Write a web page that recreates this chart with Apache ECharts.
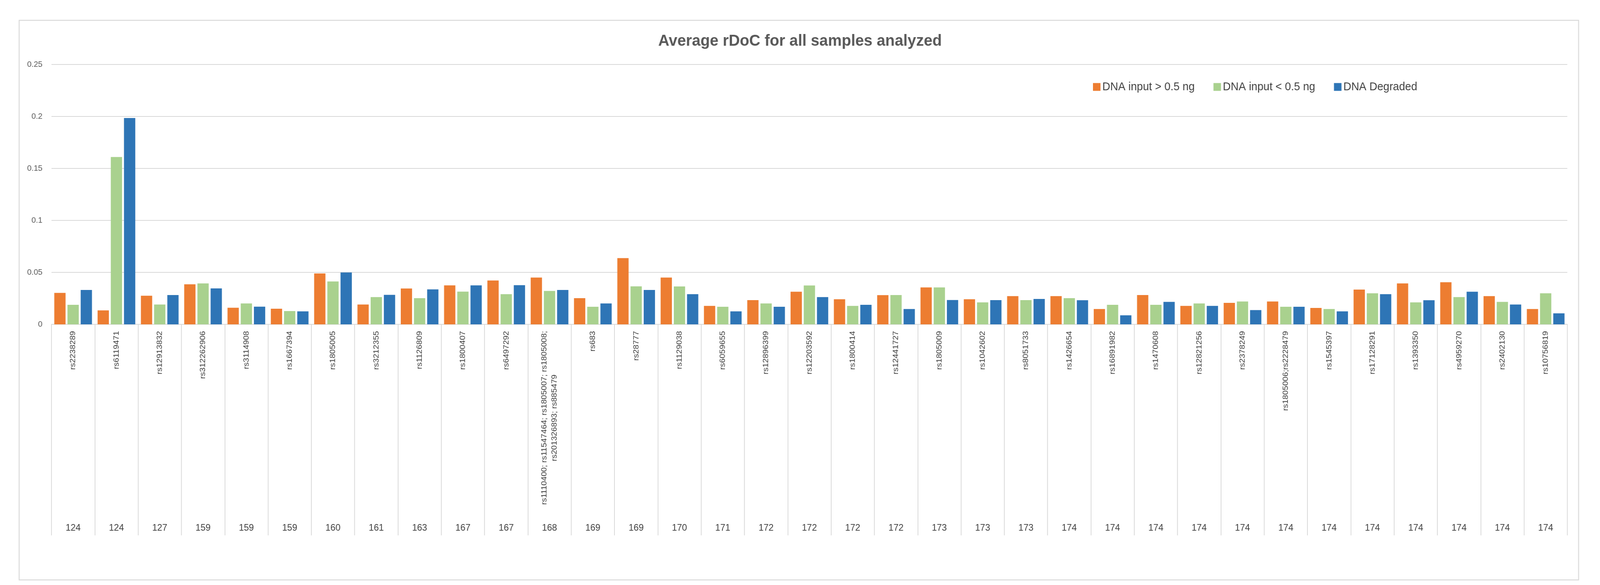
<!DOCTYPE html>
<html>
<head>
<meta charset="utf-8">
<script src="https://cdn.jsdelivr.net/npm/echarts@6/dist/echarts.min.js"></script>
<style>
  html, body { margin: 0; padding: 0; background: #ffffff; overflow: hidden; }
  #chart { width: 4260px; height: 1497px; transform-origin: 0 0; }
</style>
</head>
<body>
<div id="chart"></div>
<script>
const rsNames = [
  'rs2238289', 'rs6119471', 'rs12913832', 'rs312262906', 'rs3114908', 'rs1667394',
  'rs1805005', 'rs3212355', 'rs1126809', 'rs1800407', 'rs6497292',
  'rs1110400; rs11547464; rs1805007; rs1805008;\nrs201326893; rs885479',
  'rs683', 'rs28777', 'rs1129038', 'rs6059655', 'rs12896399', 'rs12203592',
  'rs1800414', 'rs12441727', 'rs1805009', 'rs1042602', 'rs8051733', 'rs1426654',
  'rs16891982', 'rs1470608', 'rs12821256', 'rs2378249', 'rs1805006;rs2228479',
  'rs1545397', 'rs17128291', 'rs1393350', 'rs4959270', 'rs2402130', 'rs10756819'
];
const sampleCounts = [
  '124', '124', '127', '159', '159', '159', '160', '161', '163', '167', '167', '168',
  '169', '169', '170', '171', '172', '172', '172', '172', '173', '173', '173', '174',
  '174', '174', '174', '174', '174', '174', '174', '174', '174', '174', '174'
];
const seriesNames = ['DNA input > 0.5 ng', 'DNA input < 0.5 ng', 'DNA Degraded'];
const inputAbove = [
  0.0303, 0.0134, 0.0275, 0.0385, 0.0160, 0.0150, 0.0490, 0.0191, 0.0345, 0.0375,
  0.0422, 0.0450, 0.0252, 0.0637, 0.0450, 0.0178, 0.0233, 0.0314, 0.0242, 0.0281,
  0.0355, 0.0242, 0.0272, 0.0272, 0.0148, 0.0282, 0.0178, 0.0207, 0.0220, 0.0158,
  0.0335, 0.0394, 0.0405, 0.0272, 0.0148
];
const inputBelow = [
  0.0188, 0.1610, 0.0191, 0.0394, 0.0201, 0.0128, 0.0413, 0.0262, 0.0252, 0.0315,
  0.0290, 0.0321, 0.0169, 0.0366, 0.0365, 0.0169, 0.0201, 0.0374, 0.0178, 0.0282,
  0.0355, 0.0211, 0.0233, 0.0252, 0.0188, 0.0188, 0.0201, 0.0220, 0.0169, 0.0148,
  0.0299, 0.0211, 0.0262, 0.0216, 0.0299
];
const degraded = [
  0.0331, 0.1985, 0.0282, 0.0346, 0.0170, 0.0125, 0.0499, 0.0284, 0.0336, 0.0375,
  0.0377, 0.0331, 0.0201, 0.0331, 0.0290, 0.0125, 0.0169, 0.0262, 0.0188, 0.0148,
  0.0234, 0.0233, 0.0244, 0.0232, 0.0087, 0.0216, 0.0178, 0.0137, 0.0169, 0.0125,
  0.0290, 0.0232, 0.0314, 0.0191, 0.0106
];
const colors = ['#ED7D31', '#A9D18E', '#2E75B6'];

// fit the 4260x1497 design into whatever viewport the browser really has
(function fit() {
  const el = document.getElementById('chart');
  const vw = window.innerWidth || 4260;
  const vh = window.innerHeight || 1497;
  const sx = vw / 4260, sy = vh / 1497;
  if (Math.abs(sx - 1) > 0.002 || Math.abs(sy - 1) > 0.002) {
    el.style.transform = 'scale(' + sx + ',' + sy + ')';
  }
})();

const chart = echarts.init(document.getElementById('chart'), null, { renderer: 'canvas', width: 4260, height: 1497 });
const FONT = "'Liberation Sans', Arial, sans-serif";
const gridLine = '#D9D9D9';

const option = {
  animation: false,
  backgroundColor: '#ffffff',
  color: colors,
  title: {
    text: 'Average rDoC for all samples analyzed',
    left: 'center',
    top: 80,
    textStyle: { fontFamily: FONT, fontSize: 41, fontWeight: 'bold', color: '#595959' }
  },
  legend: {
    left: 2905,
    top: 203,
    itemWidth: 20,
    itemHeight: 20,
    itemGap: 50,
    icon: 'rect',
    textStyle: { fontFamily: FONT, fontSize: 29, color: '#404040' },
    data: seriesNames
  },
  graphic: [{
    type: 'rect',
    shape: { x: 51, y: 52, width: 4152, height: 1432 },
    style: { fill: 'none', stroke: gridLine, lineWidth: 2.5 },
    silent: true,
    z: -1
  }],
  grid: { left: 137, right: 87, top: 165, bottom: 667, containLabel: false },
  xAxis: [{
    type: 'category',
    data: rsNames,
    position: 'bottom',
    axisLine: { show: true, lineStyle: { color: gridLine, width: 2 } },
    axisTick: { show: true, interval: 0, length: 540, lineStyle: { color: gridLine, width: 2 } },
    axisLabel: {
      interval: 0,
      rotate: 90,
      margin: 17,
      fontFamily: FONT,
      fontSize: 21,
      color: '#404040',
      formatter: function (v) {
        if (v.indexOf('\n') >= 0) {
          return v.split('\n').map(function (s) { return '{c|' + s + '}'; }).join('\n');
        }
        return v;
      },
      rich: {
        c: { align: 'center', fontFamily: FONT, fontSize: 21, color: '#404040', lineHeight: 27 }
      }
    },
    splitLine: { show: false }
  }, {
    type: 'category',
    data: rsNames,
    position: 'bottom',
    offset: 501,
    axisLine: { show: false },
    axisTick: { show: false },
    axisLabel: {
      interval: 0,
      margin: 8,
      fontFamily: "'Liberation Sans Narrow', 'Liberation Sans', Arial, sans-serif",
      fontSize: 24,
      color: '#404040',
      formatter: function (v, i) { return sampleCounts[i]; }
    }
  }],
  yAxis: {
    type: 'value',
    min: 0,
    max: 0.25,
    interval: 0.05,
    axisLine: { show: false },
    axisTick: { show: false },
    axisLabel: { fontFamily: FONT, fontSize: 21, color: '#595959', margin: 24 },
    splitLine: { show: true, lineStyle: { color: gridLine, width: 2 } }
  },
  series: [
    { name: seriesNames[0], type: 'bar', data: inputAbove, barGap: '17%', barCategoryGap: '13%' },
    { name: seriesNames[1], type: 'bar', data: inputBelow, barGap: '17%', barCategoryGap: '13%' },
    { name: seriesNames[2], type: 'bar', data: degraded, barGap: '17%', barCategoryGap: '13%' }
  ]
};
chart.setOption(option);
</script>
</body>
</html>
